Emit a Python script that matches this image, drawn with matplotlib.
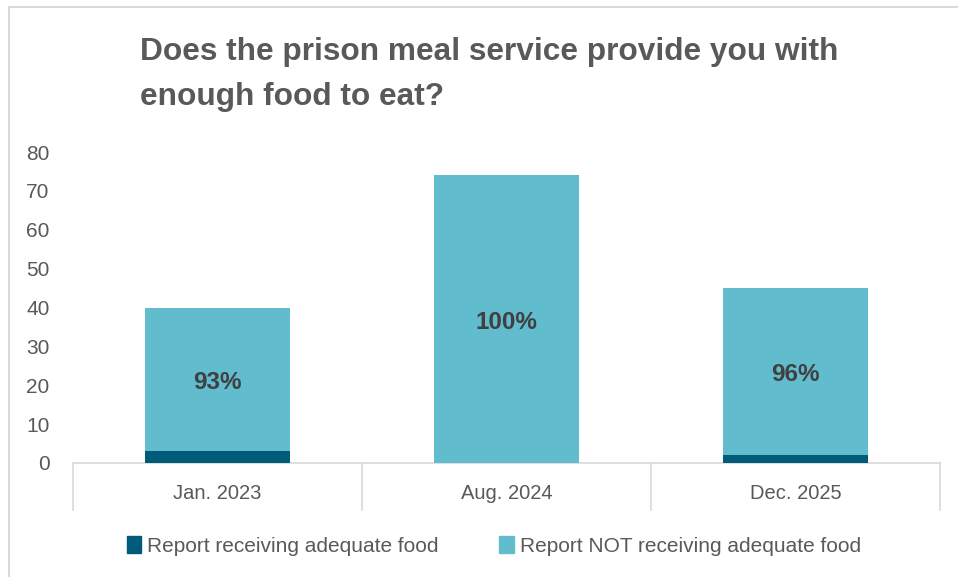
import matplotlib.pyplot as plt
from matplotlib.lines import Line2D
from matplotlib.patches import Patch
import numpy as np

# survey counts per wave
periods = ['Jan. 2023', 'Aug. 2024', 'Dec. 2025']
adequate = [3, 0, 2]
not_adequate = [37, 74, 43]
pct_labels = ['93%', '100%', '96%']

dark = '#005A7A'
light = '#61BCCE'
grey_txt = '#595959'

plt.rcParams['font.family'] = ['Liberation Sans', 'DejaVu Sans']

fig = plt.figure(figsize=(9.58, 5.77), dpi=100)
ax = fig.add_axes([73/958, 1-463/577, 867/958, 311/577])

x = np.arange(len(periods))
ax.bar(x, adequate, width=0.5, color=dark, zorder=3)
ax.bar(x, not_adequate, width=0.5, bottom=adequate, color=light, zorder=3)

for i in range(len(periods)):
    ax.text(x[i], adequate[i] + not_adequate[i] / 2 - 0.8, pct_labels[i],
            ha='center', va='center', fontsize=17.5, fontweight='bold',
            color='#404040')

ax.set_xlim(-0.5, 2.5)
ax.set_ylim(0, 80)
ax.set_yticks(range(0, 81, 10))
ax.tick_params(axis='y', length=0, labelsize=15, labelcolor=grey_txt, pad=17)
ax.set_xticks([])
for s in ['top', 'right', 'left']:
    ax.spines[s].set_visible(False)
ax.spines['bottom'].set_color('#D9D9D9')
ax.spines['bottom'].set_linewidth(1.2)

# category dividers below the axis
for xd in [-0.5, 0.5, 1.5, 2.5]:
    ax.add_line(Line2D([xd, xd], [0, -0.151], transform=ax.get_xaxis_transform(),
                       color='#D9D9D9', lw=1.2, clip_on=False))
for i, p in enumerate(periods):
    ax.text(x[i], -0.098, p, transform=ax.get_xaxis_transform(),
            ha='center', va='center', fontsize=14.5, color=grey_txt)

# title
fig.text(140/958, 1-52/577, 'Does the prison meal service provide you with',
         fontsize=22.8, fontweight='bold', color=grey_txt, va='center', ha='left')
fig.text(140/958, 1-97/577, 'enough food to eat?',
         fontsize=22.8, fontweight='bold', color=grey_txt, va='center', ha='left')

# legend
handles = [Patch(color=dark), Patch(color=light)]
leg = fig.legend(handles, ['Report receiving adequate food', 'Report NOT receiving adequate food'],
                 loc='center', bbox_to_anchor=(494/958, 1-546/577), ncol=2, frameon=False,
                 fontsize=15, handlelength=0.7, handleheight=0.9, handletextpad=0.3,
                 columnspacing=2.9)
for t in leg.get_texts():
    t.set_color(grey_txt)

# chart border (top and left)
fig.add_artist(Line2D([9/958, 1], [1-7/577, 1-7/577], transform=fig.transFigure,
                      color='#D9D9D9', lw=1.5))
fig.add_artist(Line2D([9/958, 9/958], [0, 1-7/577], transform=fig.transFigure,
                      color='#D9D9D9', lw=1.5))

fig.savefig('out.png', dpi=100)
